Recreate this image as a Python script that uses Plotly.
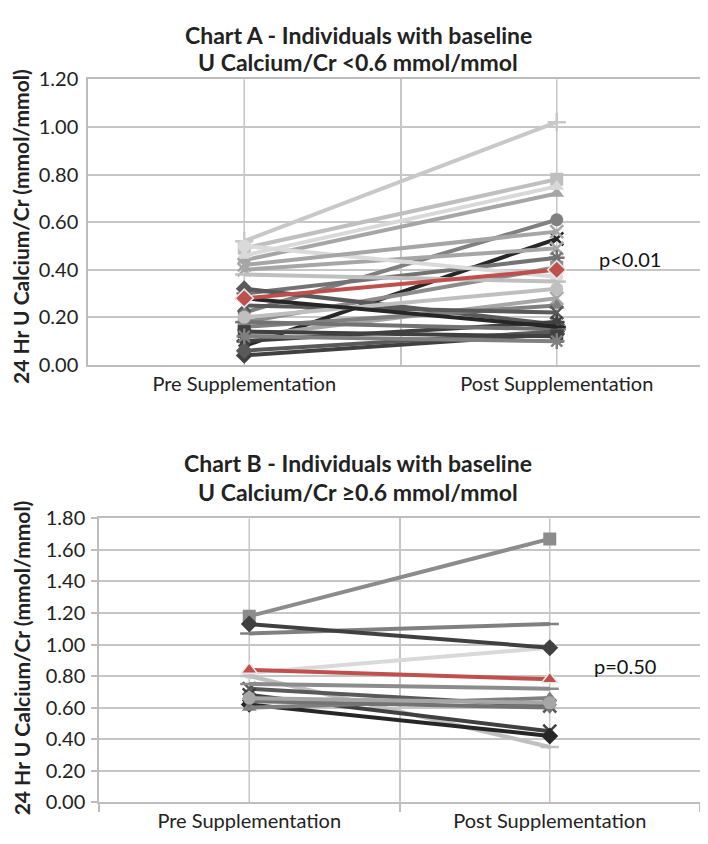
import plotly.graph_objects as go

# -----------------------------------
# Data
# -----------------------------------
phases = ["Pre Supplementation", "Post Supplementation"]

# Chart A - baseline < 0.6 (pre, post per individual)
a_pre = [0.04, 0.49, 0.44, 0.08, 0.52, 0.22, 0.46, 0.40, 0.30, 0.50, 0.18, 0.38,
         0.32, 0.12, 0.16, 0.25, 0.10, 0.18, 0.06, 0.14, 0.12, 0.20, 0.42, 0.28]
a_post = [0.13, 0.78, 0.72, 0.53, 1.02, 0.61, 0.75, 0.49, 0.45, 0.37, 0.41, 0.35,
          0.17, 0.28, 0.25, 0.22, 0.18, 0.15, 0.14, 0.12, 0.10, 0.32, 0.56, 0.16]
a_mean = [0.28, 0.40]

# Chart B - baseline >= 0.6
b_pre = [0.82, 1.18, 1.07, 1.13, 0.80, 0.72, 0.68, 0.62, 0.75, 0.60, 0.64, 0.66]
b_post = [0.98, 1.67, 1.13, 0.98, 0.35, 0.61, 0.45, 0.42, 0.72, 0.66, 0.60, 0.63]
b_mean = [0.84, 0.78]

a_ticks = [0.0, 0.2, 0.4, 0.6, 0.8, 1.0, 1.2]
b_ticks = [0.0, 0.2, 0.4, 0.6, 0.8, 1.0, 1.2, 1.4, 1.6, 1.8]

# -----------------------------------
# Styles
# -----------------------------------
grays_a = ["#404040", "#BFBFBF", "#A6A6A6", "#262626", "#C8C8C8", "#808080",
           "#D9D9D9", "#A6A6A6", "#737373", "#DADADA", "#8C8C8C", "#BFBFBF",
           "#595959", "#A6A6A6", "#808080", "#595959", "#404040", "#737373",
           "#595959", "#404040", "#808080", "#BFBFBF", "#A6A6A6", "#262626"]
symbols_a = ["diamond", "square", "triangle-up", "x-thin-open", "cross-thin-open",
             "circle", "triangle-up", "x-thin-open", "asterisk-open", "circle",
             "square", "line-ew-open", "diamond", "x-thin-open", "triangle-up",
             "x-thin-open", "asterisk-open", "line-ew-open", "diamond", "square",
             "asterisk-open", "circle", "x-thin-open", "line-ew-open"]

grays_b = ["#D9D9D9", "#8C8C8C", "#808080", "#404040", "#BFBFBF", "#595959",
           "#404040", "#262626", "#8C8C8C", "#808080", "#737373", "#A6A6A6"]
symbols_b = ["circle", "square", "line-ew-open", "diamond", "line-ew-open",
             "x-thin-open", "x-thin-open", "diamond", "line-ew-open",
             "triangle-up", "triangle-down", "circle"]

RED = "#C0504D"
FONT = "Lato"
GRID = "#C6C6C6"

W, H = 708, 844


def px_x(v):
    return v / W


def px_y(v):
    return 1 - v / H


fig = go.Figure()


def add_panel(pre, post, mean, grays, symbols, xa, ya):
    for i in range(len(pre)):
        sym = symbols[i]
        is_open = sym.endswith("-open")
        fig.add_trace(go.Scatter(
            x=phases, y=[pre[i], post[i]],
            mode="lines+markers",
            line=dict(color=grays[i], width=4),
            marker=dict(symbol=sym, size=13, color=grays[i],
                        line=dict(color=grays[i], width=2.5 if is_open else 0)),
            xaxis=xa, yaxis=ya, showlegend=False, hoverinfo="y"
        ))
    fig.add_trace(go.Scatter(
        x=phases, y=mean,
        mode="lines+markers",
        line=dict(color=RED, width=4),
        marker=dict(symbol="diamond" if xa == "x" else "triangle-up", size=14,
                    color=RED, line=dict(color="#E8E8E8", width=1.5)),
        xaxis=xa, yaxis=ya, showlegend=False, hoverinfo="y"
    ))


add_panel(a_pre, a_post, a_mean, grays_a, symbols_a, "x", "y")
add_panel(b_pre, b_post, b_mean, grays_b, symbols_b, "x2", "y2")

xcommon = dict(
    type="category", range=[-0.5, 1.5], tickson="boundaries",
    showgrid=True, gridcolor=GRID, gridwidth=1.5,
    showline=True, linecolor="#BDBDBD", linewidth=1.5, mirror=True,
    tickfont=dict(family=FONT, size=20, color="#222"), zeroline=False,
)

fig.update_layout(
    width=W, height=H,
    margin=dict(l=0, r=0, t=0, b=0),
    paper_bgcolor="white", plot_bgcolor="white",
    font=dict(family=FONT),
    xaxis=dict(xcommon, domain=[px_x(80), px_x(705)], anchor="y", ticks=""),
    yaxis=dict(domain=[px_y(354), px_y(60)], anchor="x", range=[0, 1.2],
               tickvals=a_ticks, tickformat=".2f",
               showgrid=True, gridcolor=GRID, gridwidth=1.5, zeroline=False,
               showline=True, linecolor="#BDBDBD", linewidth=1.5, mirror=True,
               ticklabelstandoff=4,
               tickfont=dict(family=FONT, size=20, color="#222")),
    xaxis2=dict(xcommon, domain=[px_x(91), px_x(692)], anchor="y2",
                ticks="outside", ticklen=8, tickcolor="#BDBDBD", tickwidth=1.5),
    yaxis2=dict(domain=[px_y(804), px_y(512)], anchor="x2", range=[0, 1.8],
                tickvals=b_ticks, tickformat=".2f",
                showgrid=True, gridcolor=GRID, gridwidth=1.5, zeroline=False,
                showline=True, linecolor="#BDBDBD", linewidth=1.5, mirror=True,
                ticks="outside", ticklen=6, tickcolor="#BDBDBD", tickwidth=1.5,
                ticklabelstandoff=2,
                tickfont=dict(family=FONT, size=20, color="#222")),
)

# vertical gridlines through the two categories
for xr, yr in [("x", "y"), ("x2", "y2")]:
    for ph in phases:
        fig.add_shape(type="line", xref=xr, yref=f"{yr} domain",
                      x0=ph, x1=ph, y0=0, y1=1,
                      line=dict(color=GRID, width=1.5), layer="below")

# titles
titles = [
    ("Chart A - Individuals with baseline", 14),
    ("U Calcium/Cr <0.6 mmol/mmol", 42),
    ("Chart B - Individuals with baseline", 455),
    ("U Calcium/Cr \u22650.6 mmol/mmol", 485),
]
for text, ypix in titles:
    fig.add_annotation(text=f"<b>{text}</b>", xref="paper", yref="paper",
                       x=px_x(350), y=px_y(ypix), showarrow=False,
                       xanchor="center", yanchor="middle",
                       font=dict(family=FONT, size=23, color="#222"))

# y-axis titles
ytitle = "<b>24 Hr U Calcium/Cr (mmol/mmol)</b>"
for ypix in [212, 656]:
    fig.add_annotation(text=ytitle, xref="paper", yref="paper",
                       x=px_x(13), y=px_y(ypix), textangle=-90, showarrow=False,
                       xanchor="center", yanchor="middle",
                       font=dict(family=FONT, size=21, color="#222"))

# p-values
fig.add_annotation(text="p<0.01", xref="x", yref="y", x=phases[1], y=0.445,
                   xanchor="left", xshift=40, showarrow=False,
                   font=dict(family=FONT, size=20, color="#111"))
fig.add_annotation(text="p=0.50", xref="x2", yref="y2", x=phases[1], y=0.865,
                   xanchor="left", xshift=42, showarrow=False,
                   font=dict(family=FONT, size=20, color="#111"))

fig.write_html("out.html")
